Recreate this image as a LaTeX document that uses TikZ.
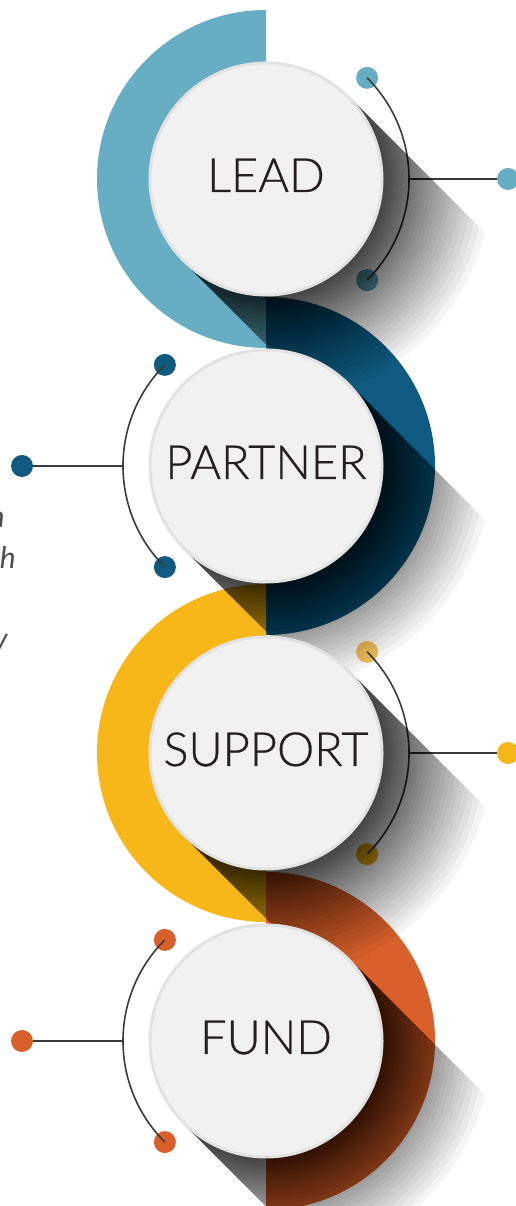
\documentclass[tikz,border=0pt]{standalone}
\usepackage{fontspec}
\setmainfont{Lato}
\newfontfamily\labelfont[FakeBold=0.6]{Lato Light}
\usepackage{tikz}
\definecolor{leadblue}{HTML}{67AEC4}
\definecolor{partnerblue}{HTML}{0F5A80}
\definecolor{supportyellow}{HTML}{F7B718}
\definecolor{supportpale}{HTML}{F5C35E}
\definecolor{fundorange}{HTML}{D9602A}
\definecolor{bubblegray}{HTML}{F1F1F1}
\definecolor{rimgray}{HTML}{E2E2E2}
\definecolor{labelink}{HTML}{231F20}
\definecolor{linkgray}{HTML}{3A3A3A}
\definecolor{notegray}{HTML}{4D4D4D}

\begin{document}
\begin{tikzpicture}[
    x=1pt, y=1pt,
    bubble/.style={circle, minimum size=232pt, inner sep=0pt, fill=bubblegray,
        draw=rimgray, line width=3pt, text=labelink, text height=34pt, text depth=8pt,
        font=\labelfont\fontsize{47}{47}\selectfont},
    bead/.style={circle, minimum size=22pt, inner sep=0pt, fill=#1},
    link/.style={draw=linkgray, line width=1.6pt},
    side note/.style={anchor=base east, inner sep=0pt, text=notegray,
        font=\fontsize{30}{30}\selectfont\itshape}
]
    \useasboundingbox (0,0) rectangle (516,1206);
    \clip (0,0) rectangle (516,1206);

    \coordinate (lead) at (266,1027);
    \coordinate (partner) at (266,740);
    \coordinate (support) at (266,453);
    \coordinate (fund) at (266,165);

    % half rings
    \fill[leadblue] ([shift={(90:169)}]lead) arc (90:270:169) -- ++(0,52) arc (270:90:117) -- cycle;
    \fill[partnerblue] ([shift={(90:169)}]partner) arc (90:-90:169) -- ++(0,52) arc (-90:90:117) -- cycle;
    \fill[supportyellow] ([shift={(90:169)}]support) arc (90:270:169) -- ++(0,52) arc (270:90:117) -- cycle;
    \fill[fundorange] ([shift={(90:169)}]fund) arc (90:-90:169) -- ++(0,52) arc (-90:90:117) -- cycle;

    % connectors
    \node[bead=leadblue] (lead-top) at ([shift={(45:143)}]lead) {};
    \node[bead=leadblue] (lead-bot) at ([shift={(-45:143)}]lead) {};
    \node[bead=leadblue] (lead-out) at (508,1027) {};
    \coordinate (lead-mid) at ([shift={(0:143)}]lead);
    \draw[link] (lead-top.center) arc (45:-45:143);
    \draw[link] (lead-mid) -- (lead-out);

    \node[bead=partnerblue] (partner-top) at ([shift={(135:143)}]partner) {};
    \node[bead=partnerblue] (partner-bot) at ([shift={(225:143)}]partner) {};
    \node[bead=partnerblue] (partner-out) at (22,740) {};
    \coordinate (partner-mid) at ([shift={(180:143)}]partner);
    \draw[link] (partner-top.center) arc (135:225:143);
    \draw[link] (partner-mid) -- (partner-out);

    \node[bead=supportpale] (support-top) at ([shift={(45:143)}]support) {};
    \node[bead=supportyellow] (support-bot) at ([shift={(-45:143)}]support) {};
    \node[bead=supportyellow] (support-out) at (508,453) {};
    \coordinate (support-mid) at ([shift={(0:143)}]support);
    \draw[link] (support-top.center) arc (45:-45:143);
    \draw[link] (support-mid) -- (support-out);

    \node[bead=fundorange] (fund-top) at ([shift={(135:143)}]fund) {};
    \node[bead=fundorange] (fund-bot) at ([shift={(225:143)}]fund) {};
    \node[bead=fundorange] (fund-out) at (22,165) {};
    \coordinate (fund-mid) at ([shift={(180:143)}]fund);
    \draw[link] (fund-top.center) arc (135:225:143);
    \draw[link] (fund-mid) -- (fund-out);

    % long shadows, fading out round each circle
    \foreach \c in {lead,partner,support,fund}{
        \begin{scope}
            \clip[shift={(\c)}, rotate=-45] (0,-117) rectangle (260,117);
            \foreach \j in {0,...,29}
                \fill[black, fill opacity=0.045] (\c) circle ({117+144*(0.25^(\j/30)-0.25)});
        \end{scope}
    }

    % circles
    \node[bubble] (lead-circle) at (lead) {LEAD};
    \node[bubble] (partner-circle) at (partner) {PARTNER};
    \node[bubble] (support-circle) at (support) {SUPPORT};
    \node[bubble] (fund-circle) at (fund) {FUND};

    % cut-off notes at the left edge
    \node[side note] (note-n) at (5,678) {n};
    \node[side note] (note-h) at (16,637) {h};
    \node[side note] (note-y) at (8,556) {y};
\end{tikzpicture}
\end{document}
